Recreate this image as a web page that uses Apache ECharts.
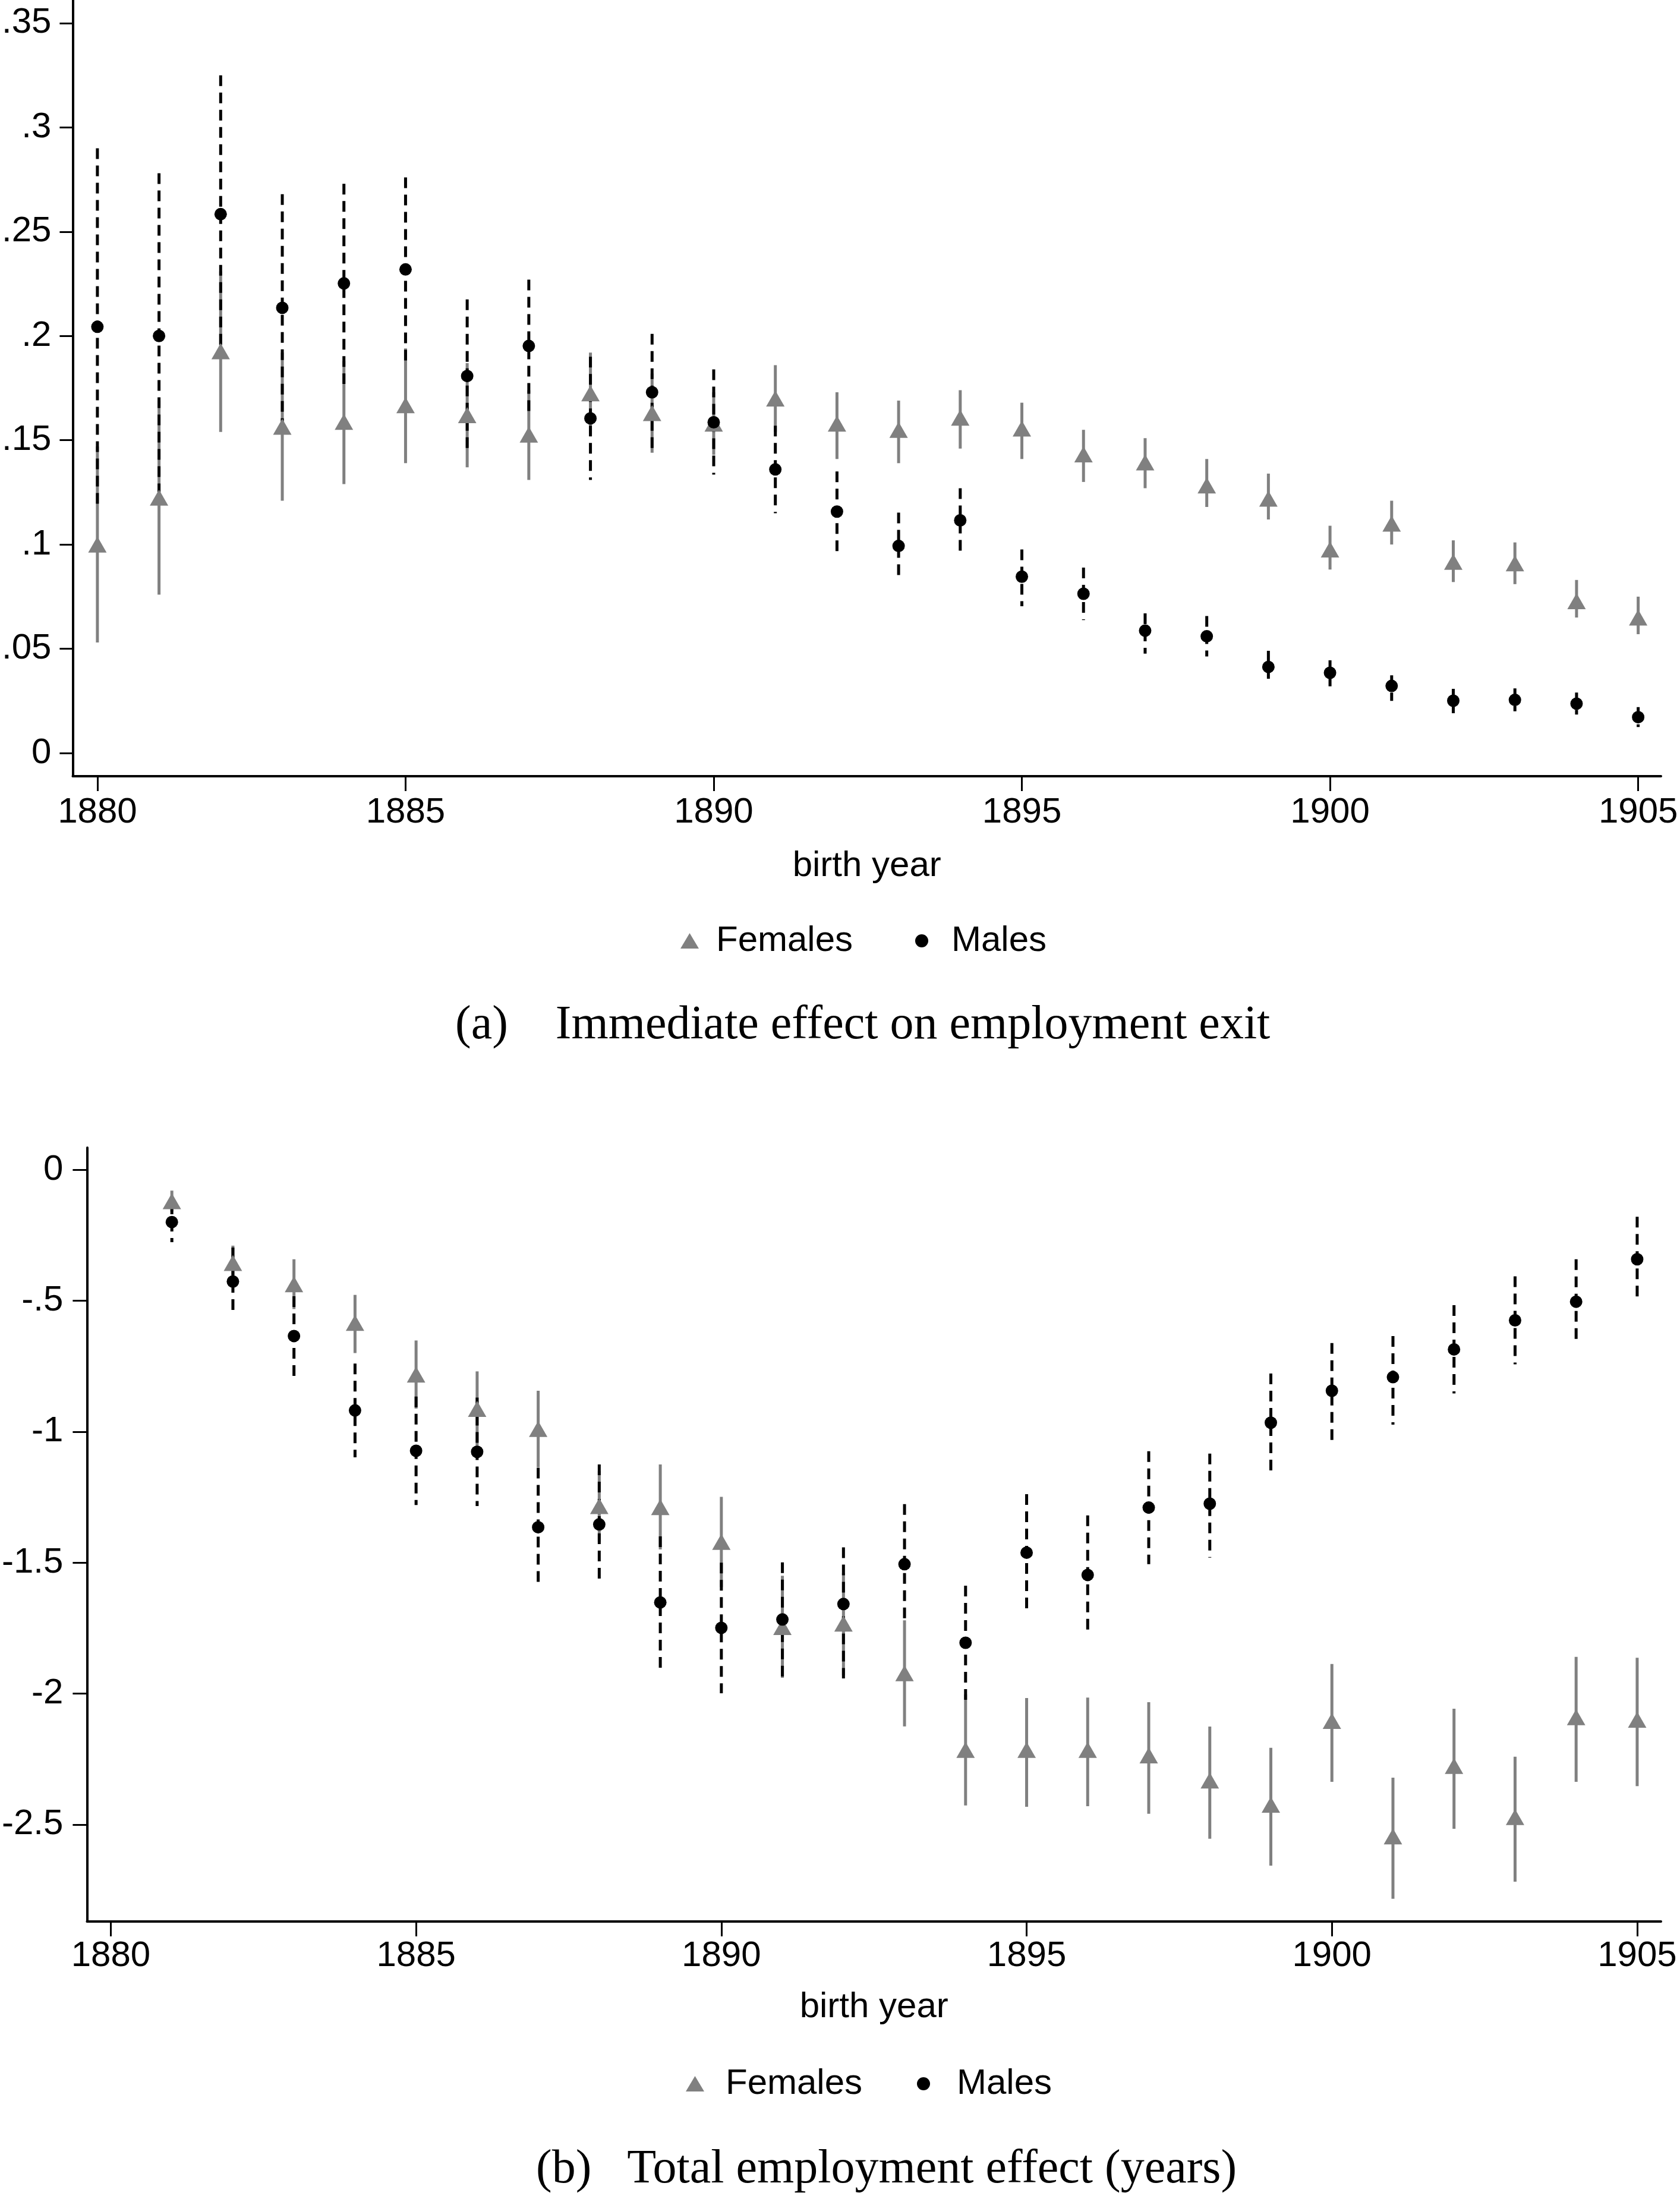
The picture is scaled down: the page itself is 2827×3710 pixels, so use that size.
<!DOCTYPE html>
<html>
<head>
<meta charset="utf-8">
<script src="https://cdn.jsdelivr.net/npm/echarts@6/dist/echarts.min.js"></script>
<style>
  html, body { margin: 0; padding: 0; background: #fff; }
  #chart { width: 2827px; height: 3710px; }
</style>
</head>
<body>
<div id="chart"></div>
<script>
// panel (a): immediate effect on employment exit
const yearsA = [1880, 1881, 1882, 1883, 1884, 1885, 1886, 1887, 1888, 1889, 1890, 1891, 1892,
    1893, 1894, 1895, 1896, 1897, 1898, 1899, 1900, 1901, 1902, 1903, 1904, 1905];
const femA = [0.100, 0.1225, 0.1927, 0.1565, 0.1588, 0.1668, 0.162, 0.1527, 0.1725, 0.163, 0.158, 0.170, 0.158,
    0.155, 0.1608, 0.1556, 0.1432, 0.1394, 0.1283, 0.122, 0.0976, 0.110, 0.0917, 0.091, 0.0728, 0.065];
const femALo = [0.053, 0.076, 0.154, 0.121, 0.129, 0.139, 0.137, 0.131, 0.153, 0.144, 0.143, 0.154, 0.141,
    0.139, 0.146, 0.141, 0.130, 0.127, 0.118, 0.112, 0.088, 0.100, 0.082, 0.081, 0.065, 0.057];
const femAHi = [0.147, 0.169, 0.231, 0.192, 0.188, 0.194, 0.187, 0.174, 0.192, 0.182, 0.173, 0.186, 0.173,
    0.169, 0.174, 0.168, 0.155, 0.151, 0.141, 0.134, 0.109, 0.121, 0.102, 0.101, 0.083, 0.075];
const maleA = [0.2044, 0.200, 0.2584, 0.2135, 0.2252, 0.2319, 0.1808, 0.1952, 0.1605, 0.173, 0.1586, 0.136, 0.1158,
    0.0993, 0.1116, 0.0846, 0.0764, 0.0587, 0.056, 0.0413, 0.0385, 0.0322, 0.0251, 0.0255, 0.0237, 0.0172];
const maleALo = [0.118, 0.122, 0.192, 0.159, 0.177, 0.188, 0.144, 0.163, 0.131, 0.144, 0.1335, 0.115, 0.0964,
    0.0823, 0.0953, 0.0704, 0.0638, 0.0477, 0.0463, 0.0336, 0.032, 0.025, 0.0191, 0.020, 0.0185, 0.0125];
const maleAHi = [0.290, 0.278, 0.325, 0.268, 0.273, 0.276, 0.2175, 0.227, 0.190, 0.201, 0.184, 0.157, 0.135,
    0.1153, 0.127, 0.0976, 0.0889, 0.067, 0.0657, 0.049, 0.0445, 0.0373, 0.0308, 0.031, 0.029, 0.022];

// panel (b): total employment effect (years)
const yearsB = [1881, 1882, 1883, 1884, 1885, 1886, 1887, 1888, 1889, 1890, 1891, 1892,
    1893, 1894, 1895, 1896, 1897, 1898, 1899, 1900, 1901, 1902, 1903, 1904, 1905];
const femB = [-0.12, -0.356, -0.437, -0.585, -0.782, -0.913, -0.990, -1.284, -1.288, -1.421, -1.746, -1.733,
    -1.922, -2.215, -2.215, -2.215, -2.236, -2.332, -2.424, -2.104, -2.545, -2.276, -2.471, -2.09, -2.10];
const femBLo = [-0.16, -0.42, -0.532, -0.700, -0.912, -1.056, -1.136, -1.42, -1.45, -1.593, -1.94, -1.93,
    -2.125, -2.427, -2.432, -2.43, -2.459, -2.554, -2.657, -2.337, -2.783, -2.516, -2.718, -2.337, -2.353];
const femBHi = [-0.08, -0.29, -0.342, -0.478, -0.652, -0.770, -0.844, -1.15, -1.125, -1.249, -1.55, -1.54,
    -1.72, -2.003, -2.017, -2.015, -2.033, -2.126, -2.207, -1.887, -2.321, -2.058, -2.241, -1.86, -1.863];
const maleB = [-0.200, -0.427, -0.635, -0.919, -1.073, -1.077, -1.365, -1.354, -1.652, -1.749, -1.717, -1.658,
    -1.506, -1.806, -1.462, -1.547, -1.290, -1.275, -0.966, -0.844, -0.792, -0.686, -0.575, -0.504, -0.342];
const maleBLo = [-0.277, -0.555, -0.787, -1.098, -1.28, -1.284, -1.592, -1.583, -1.901, -1.999, -1.956, -1.942,
    -1.735, -2.024, -1.686, -1.774, -1.506, -1.481, -1.161, -1.034, -0.973, -0.854, -0.743, -0.668, -0.506];
const maleBHi = [-0.129, -0.297, -0.483, -0.74, -0.866, -0.87, -1.138, -1.125, -1.40, -1.50, -1.499, -1.442,
    -1.277, -1.588, -1.239, -1.32, -1.075, -1.084, -0.778, -0.662, -0.635, -0.517, -0.407, -0.342, -0.180];

// ticks
const xTicks = [1880, 1885, 1890, 1895, 1900, 1905];
const yTicksA = [0, 0.05, 0.1, 0.15, 0.2, 0.25, 0.3, 0.35];
const yLabelsA = ['0', '.05', '.1', '.15', '.2', '.25', '.3', '.35'];
const yTicksB = [-2.5, -2, -1.5, -1, -0.5, 0];
const yLabelsB = ['-2.5', '-2', '-1.5', '-1', '-.5', '0'];

const captionA = '(a)    Immediate effect on employment exit';
const captionB = '(b)   Total employment effect (years)';

const GRAY = '#808080';
const SANS = '"Liberation Sans", Arial, Helvetica, sans-serif';
const SERIF = '"Liberation Serif", "Times New Roman", serif';

function pairs(xs, ys) {
    return xs.map((x, i) => [x, ys[i]]);
}
function bars(xs, lo, hi) {
    return xs.map((x, i) => [x, lo[i], hi[i]]);
}
function labelFor(ticks, labels) {
    return function (v) {
        for (let i = 0; i < ticks.length; i++) {
            if (Math.abs(ticks[i] - v) < 1e-9) return labels[i];
        }
        return '';
    };
}
function errBar(color, dash) {
    return function (params, api) {
        const x = api.value(0);
        const top = api.coord([x, api.value(2)]);
        const bot = api.coord([x, api.value(1)]);
        return {
            type: 'line',
            shape: { x1: top[0], y1: top[1], x2: bot[0], y2: bot[1] },
            style: { stroke: color, lineWidth: 5, lineDash: dash }
        };
    };
}

function xAxisFor(gridIndex, min, max, labelMargin, nameGap) {
    return {
        type: 'value', gridIndex: gridIndex, min: min, max: max,
        name: 'birth year', nameLocation: 'middle', nameGap: nameGap,
        nameTextStyle: { fontFamily: SANS, fontSize: 60, color: '#000' },
        axisLine: { onZero: false, lineStyle: { color: '#000', width: 4 } },
        axisTick: { length: 25, customValues: xTicks, lineStyle: { color: '#000', width: 3 } },
        axisLabel: { customValues: xTicks, margin: labelMargin, formatter: v => String(v),
            fontFamily: SANS, fontSize: 60, color: '#000' },
        splitLine: { show: false }
    };
}
function yAxisFor(gridIndex, min, max, ticks, labels, labelMargin, tickLen) {
    return {
        type: 'value', gridIndex: gridIndex, min: min, max: max,
        axisLine: { show: true, onZero: false, lineStyle: { color: '#000', width: 4 } },
        axisTick: { show: true, length: tickLen, customValues: ticks, lineStyle: { color: '#000', width: 3 } },
        axisLabel: { customValues: ticks, margin: labelMargin, formatter: labelFor(ticks, labels),
            fontFamily: SANS, fontSize: 60, color: '#000' },
        splitLine: { show: false }
    };
}
function legendFor(name, icon, left, top, w, h, pad) {
    return {
        data: [{ name: name, icon: icon }],
        left: left, top: top, padding: 0,
        itemWidth: w, itemHeight: h, symbolKeepAspect: false,
        selectedMode: false,
        textStyle: { fontFamily: SANS, fontSize: 60, color: '#000', padding: [0, 0, 0, pad] }
    };
}

const chart = echarts.init(document.getElementById('chart'), null, { renderer: 'canvas' });
chart.setOption({
    animation: false,
    backgroundColor: '#fff',
    title: [
        { text: captionA, left: 766, top: 1686, padding: 0,
          textStyle: { fontFamily: SERIF, fontSize: 80, fontWeight: 'normal', color: '#000' } },
        { text: captionB, left: 902, top: 3611, padding: 0,
          textStyle: { fontFamily: SERIF, fontSize: 80, fontWeight: 'normal', color: '#000' } }
    ],
    legend: [
        legendFor('Females', 'triangle', 1145, 1553, 31, 26, 24),
        legendFor('Males', 'circle', 1540, 1553, 22, 22, 34),
        legendFor('Females', 'triangle', 1154, 3476, 31, 26, 31),
        legendFor('Males', 'circle', 1543, 3476, 22, 22, 40)
    ],
    grid: [
        { left: 121, right: 32, top: 0, height: 1306 },
        { left: 145, right: 32, top: 1931, height: 1302 }
    ],
    xAxis: [
        xAxisFor(0, 1879.6, 1905.37, 31, 121),
        xAxisFor(1, 1879.61, 1905.39, 28, 114)
    ],
    yAxis: [
        yAxisFor(0, -0.0111, 0.3611, yTicksA, yLabelsA, 36, 22),
        yAxisFor(1, -2.87, 0.084, yTicksB, yLabelsB, 40, 24)
    ],
    series: [
        { type: 'custom', name: 'Females', xAxisIndex: 0, yAxisIndex: 0, z: 1,
          itemStyle: { color: GRAY }, renderItem: errBar(GRAY, null), data: bars(yearsA, femALo, femAHi) },
        { type: 'custom', name: 'Males', xAxisIndex: 0, yAxisIndex: 0, z: 2,
          itemStyle: { color: '#000' }, renderItem: errBar('#000', [18, 11]), data: bars(yearsA, maleALo, maleAHi) },
        { type: 'scatter', name: 'Females', xAxisIndex: 0, yAxisIndex: 0, z: 3,
          symbol: 'triangle', symbolSize: [31, 27], itemStyle: { color: GRAY, opacity: 1 }, data: pairs(yearsA, femA) },
        { type: 'scatter', name: 'Males', xAxisIndex: 0, yAxisIndex: 0, z: 4,
          symbol: 'circle', symbolSize: 21, itemStyle: { color: '#000', opacity: 1 }, data: pairs(yearsA, maleA) },

        { type: 'custom', name: 'Females', xAxisIndex: 1, yAxisIndex: 1, z: 1,
          itemStyle: { color: GRAY }, renderItem: errBar(GRAY, null), data: bars(yearsB, femBLo, femBHi) },
        { type: 'custom', name: 'Males', xAxisIndex: 1, yAxisIndex: 1, z: 2,
          itemStyle: { color: '#000' }, renderItem: errBar('#000', [18, 11]), data: bars(yearsB, maleBLo, maleBHi) },
        { type: 'scatter', name: 'Females', xAxisIndex: 1, yAxisIndex: 1, z: 3,
          symbol: 'triangle', symbolSize: [31, 27], itemStyle: { color: GRAY, opacity: 1 }, data: pairs(yearsB, femB) },
        { type: 'scatter', name: 'Males', xAxisIndex: 1, yAxisIndex: 1, z: 4,
          symbol: 'circle', symbolSize: 21, itemStyle: { color: '#000', opacity: 1 }, data: pairs(yearsB, maleB) }
    ]
});
</script>
</body>
</html>
